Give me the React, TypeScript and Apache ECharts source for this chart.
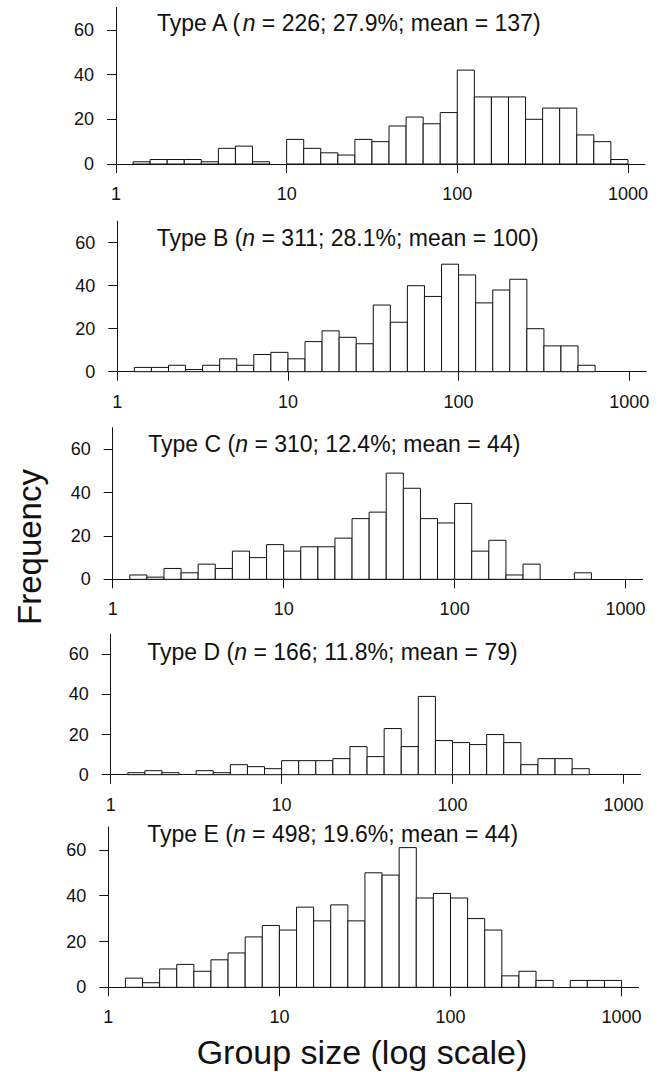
import React, { useEffect, useRef } from "react";
import * as echarts from "echarts";

const FONT = "'Liberation Sans', Arial, Helvetica, sans-serif";
const INK = "#111";

// histogram bin edges, log10(group size), 0.1-decade bins from 1 to 1000
const BIN_EDGES_LOG10 = [
  0, 0.1, 0.2, 0.3, 0.4, 0.5, 0.6, 0.7, 0.8, 0.9,
  1.0, 1.1, 1.2, 1.3, 1.4, 1.5, 1.6, 1.7, 1.8, 1.9,
  2.0, 2.1, 2.2, 2.3, 2.4, 2.5, 2.6, 2.7, 2.8, 2.9, 3.0,
];

const X_TICKS = [0, 1, 2, 3];
const X_TICK_LABELS = ["1", "10", "100", "1000"];
const Y_TICKS = [0, 20, 40, 60];

const TYPES = ["A", "B", "C", "D", "E"];
const N_VALUES = [226, 311, 310, 166, 498];
const PERCENTS = ["27.9%", "28.1%", "12.4%", "11.8%", "19.6%"];
const MEANS = [137, 100, 44, 79, 44];

const COUNTS_A = [0, 1, 2, 2, 2, 1, 7, 8, 1, 0, 11, 7, 5, 4, 11, 10, 17, 21, 18, 23, 42, 30, 30, 30, 20, 25, 25, 13, 10, 2];
const COUNTS_B = [0, 2, 2, 3, 1, 3, 6, 3, 8, 9, 6, 14, 19, 16, 13, 31, 23, 40, 35, 50, 45, 32, 38, 43, 20, 12, 12, 3, 0, 0];
const COUNTS_C = [0, 2, 1, 5, 3, 7, 5, 13, 10, 16, 13, 15, 15, 19, 28, 31, 49, 42, 28, 26, 35, 13, 18, 2, 7, 0, 0, 3, 0, 0];
const COUNTS_D = [0, 1, 2, 1, 0, 2, 1, 5, 4, 3, 7, 7, 7, 8, 14, 9, 23, 14, 39, 17, 16, 15, 20, 16, 5, 8, 8, 3, 0, 0];
const COUNTS_E = [0, 4, 2, 8, 10, 7, 12, 15, 22, 27, 25, 35, 29, 36, 29, 50, 49, 61, 39, 41, 39, 30, 25, 5, 7, 3, 0, 3, 3, 3];

const ALL_COUNTS = [COUNTS_A, COUNTS_B, COUNTS_C, COUNTS_D, COUNTS_E];

// panel layout (pixels)
const GRIDS = [
  { left: 116, top: 7.5, width: 529, height: 156.5 },
  { left: 117.3, top: 221.2, width: 529, height: 150.5 },
  { left: 112.7, top: 427.6, width: 530, height: 151.7 },
  { left: 110.7, top: 634.2, width: 529.8, height: 140.5 },
  { left: 108.3, top: 827, width: 530.4, height: 160.3 },
];
const TITLE_POS = [
  { x: 157, y: 23 },
  { x: 156.7, y: 237.7 },
  { x: 148.3, y: 443.8 },
  { x: 147.3, y: 651.7 },
  { x: 147.3, y: 834.3 },
];

export default function App() {
  const ref = useRef<HTMLDivElement>(null);

  useEffect(() => {
    document.body.style.margin = "0";
    if (!ref.current) return;
    const chart = echarts.init(ref.current, undefined, { renderer: "svg" });

    const labelStyle = { fontSize: 18, fontFamily: FONT, color: INK };

    const option: any = {
      animation: false,
      backgroundColor: "#fff",
      grid: GRIDS.map((g) => ({ ...g, containLabel: false })),
      xAxis: GRIDS.map((_, i) => ({
        type: "value",
        gridIndex: i,
        min: 0,
        max: 3.1,
        splitLine: { show: false },
        axisLine: { show: true, onZero: false, lineStyle: { color: INK, width: 1 } },
        axisTick: {
          show: true,
          inside: false,
          length: 9,
          customValues: X_TICKS,
          lineStyle: { color: INK, width: 1 },
        },
        axisLabel: {
          ...labelStyle,
          margin: 21,
          customValues: X_TICKS,
          formatter: (v: number) => X_TICK_LABELS[X_TICKS.indexOf(Math.round(v))] ?? "",
        },
      })),
      yAxis: GRIDS.map((_, i) => ({
        type: "value",
        gridIndex: i,
        min: 0,
        max: 70,
        interval: 10,
        splitLine: { show: false },
        axisLine: { show: true, lineStyle: { color: INK, width: 1 } },
        axisTick: {
          show: true,
          inside: false,
          length: 9,
          customValues: Y_TICKS,
          lineStyle: { color: INK, width: 1 },
        },
        axisLabel: {
          ...labelStyle,
          margin: 22,
          customValues: Y_TICKS,
          formatter: (v: number) => (Y_TICKS.includes(v) ? String(v) : ""),
        },
      })),
      series: ALL_COUNTS.map((counts, i) => ({
        type: "custom",
        xAxisIndex: i,
        yAxisIndex: i,
        clip: false,
        data: counts.map((c, k) => [k, c]).filter((d) => d[1] > 0),
        renderItem: (params: any, api: any) => {
          const k = api.value(0);
          const c = api.value(1);
          const p0 = api.coord([BIN_EDGES_LOG10[k], c]);
          const p1 = api.coord([BIN_EDGES_LOG10[k + 1], 0]);
          return {
            type: "rect",
            shape: { x: p0[0], y: p0[1], width: p1[0] - p0[0], height: p1[1] - p0[1] },
            style: { fill: "#fff", stroke: INK, lineWidth: 1 },
          };
        },
      })),
      graphic: [
        ...TYPES.map((t, i) => ({
          type: "text",
          x: TITLE_POS[i].x,
          y: TITLE_POS[i].y,
          style: {
            text: `{r|Type ${t} (}{i|n}{r| = ${N_VALUES[i]}; ${PERCENTS[i]}; mean = ${MEANS[i]})}`,
            rich: {
              r: { fontSize: 23, fontFamily: FONT, fill: INK },
              i: { fontSize: 23, fontFamily: FONT, fontStyle: "italic", fill: INK },
            },
            textAlign: "left",
            textVerticalAlign: "middle",
          },
        })),
        {
          type: "text",
          x: 29,
          y: 547,
          rotation: Math.PI / 2,
          style: {
            text: "Frequency",
            fontSize: 33,
            fontFamily: FONT,
            fill: INK,
            textAlign: "center",
            textVerticalAlign: "middle",
          },
        },
        {
          type: "text",
          x: 362,
          y: 1052,
          style: {
            text: "Group size (log scale)",
            fontSize: 34,
            fontFamily: FONT,
            fill: INK,
            textAlign: "center",
            textVerticalAlign: "middle",
          },
        },
      ],
    };

    chart.setOption(option);
    return () => chart.dispose();
  }, []);

  return <div ref={ref} style={{ width: 666, height: 1072 }} />;
}
